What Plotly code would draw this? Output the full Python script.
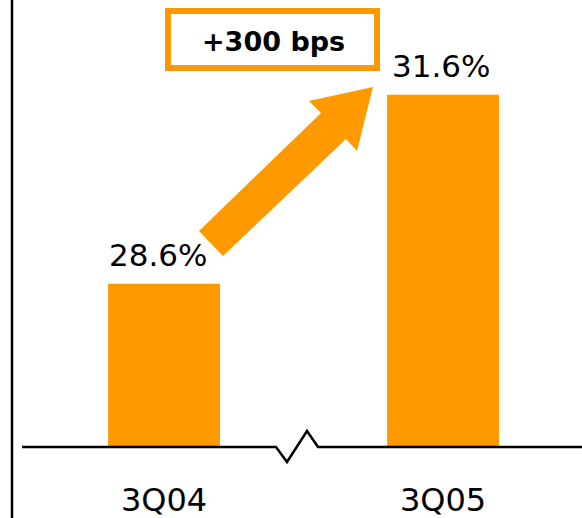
import plotly.graph_objects as go

categories = ["3Q04", "3Q05"]
values = [28.6, 31.6]
value_labels = ["28.6%", "31.6%"]
change_label = "+300 bps"

ORANGE = "#FF9900"
W, H = 582, 518
PLOT_H = 447  # plot area height in px (bottom margin holds tick labels)


def px(x, y):
    """convert pixel position to paper coords"""
    return x / W, (PLOT_H - y) / PLOT_H


def path(points):
    s = ""
    for i, (x, y) in enumerate(points):
        xp, yp = px(x, y)
        s += ("M" if i == 0 else "L") + f"{xp:.5f},{yp:.5f} "
    return s


fig = go.Figure()
fig.add_trace(go.Bar(
    x=categories, y=values, width=0.401,
    marker=dict(color=ORANGE, line=dict(width=0)),
    hoverinfo="skip",
))

# value labels
for c, v, t, dx in zip(categories, values, value_labels, [-6, -2]):
    fig.add_annotation(x=c, y=v, text=t, showarrow=False, xanchor="center",
                       yanchor="bottom", yshift=9, xshift=dx,
                       font=dict(family="DejaVu Sans", size=31, color="black"))

shapes = []
# left vertical rule
shapes.append(dict(type="line", xref="paper", yref="paper",
                   x0=12 / W, x1=12 / W, y0=px(0, 0)[1], y1=px(0, H)[1],
                   line=dict(color="black", width=2.5)))
# baseline with break zigzag
shapes.append(dict(type="path", xref="paper", yref="paper",
                   path=path([(22, 447), (276, 447), (287, 462), (307, 431), (318, 447), (582, 447)]),
                   line=dict(color="black", width=2.5)))
# arrow
shapes.append(dict(type="path", xref="paper", yref="paper",
                   path=path([(199, 231), (321, 113), (309, 101), (373, 87), (357, 151), (346, 139), (223, 256)]) + "Z",
                   fillcolor=ORANGE, line=dict(width=0)))
# box
x0, y0 = px(168, 11)
x1, y1 = px(377, 68)
shapes.append(dict(type="rect", xref="paper", yref="paper", x0=x0, x1=x1, y0=y0, y1=y1,
                   fillcolor="white", line=dict(color=ORANGE, width=6)))

bx, by = px(273, 41)
fig.add_annotation(xref="paper", yref="paper", x=bx, y=by, text=f"<b>{change_label}</b>",
                   showarrow=False, xanchor="center", yanchor="middle",
                   font=dict(family="DejaVu Sans", size=27, color="black"))

fig.update_layout(
    width=W, height=H,
    margin=dict(l=0, r=0, t=0, b=H - PLOT_H, pad=0, autoexpand=False),
    paper_bgcolor="white", plot_bgcolor="white",
    showlegend=False, shapes=shapes,
    xaxis=dict(range=[-0.588, 1.498], showgrid=False, zeroline=False, showline=False,
               automargin=False,
               ticks="outside", ticklen=25, tickcolor="rgba(0,0,0,0)",
               tickfont=dict(family="DejaVu Sans", size=32, color="black")),
    yaxis=dict(range=[26.01, 26.01 + 447 / 63], showgrid=False, zeroline=False,
               showline=False, showticklabels=False, automargin=False),
)

fig.write_html("out.html")
